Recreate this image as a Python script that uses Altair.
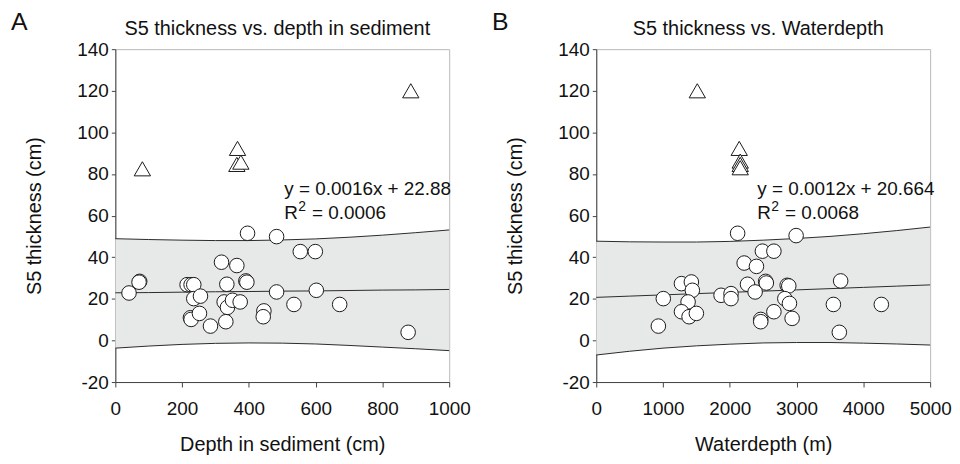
import altair as alt
import pandas as pd

FONT = "Liberation Sans"

# ---------------- Panel A : thickness vs depth in sediment ----------------
a_circ_x = [41, 73, 71, 215, 227, 235, 235, 255, 225, 227, 252, 285, 318, 364, 334,
            326, 336, 331, 351, 374, 391, 394, 396, 483, 483, 445, 443, 554, 599, 602,
            535, 672, 877]
a_circ_y = [22.8, 28.4, 28.0, 26.8, 26.8, 26.8, 20.1, 21.3, 10.9, 10.1, 13.0, 6.9, 37.6, 36.0, 27.0,
            18.5, 15.9, 9.0, 19.3, 18.5, 28.6, 28.0, 51.5, 49.9, 23.3, 14.2, 11.4, 42.7, 42.7, 24.1,
            17.3, 17.3, 3.9]
a_tri_x = [81, 366, 364, 376, 885]
a_tri_y = [82.5, 92.3, 84.6, 85.7, 120.0]

a_band_x = [0, 100, 200, 300, 400, 500, 600, 700, 800, 900, 1000]
a_band_hi = [48.9, 48.5, 48.2, 48.0, 48.0, 48.3, 48.8, 49.6, 50.6, 51.8, 53.1]
a_band_lo = [-3.7, -2.7, -1.9, -1.4, -1.2, -1.3, -1.7, -2.4, -3.2, -4.0, -4.9]
a_band_mid = [22.9, 23.0, 23.2, 23.4, 23.5, 23.7, 23.8, 24.0, 24.2, 24.3, 24.5]

a_ticks = [0, 200, 400, 600, 800, 1000]
a_eq = "y = 0.0016x + 22.88"
a_r2 = "= 0.0006"

# ---------------- Panel B : thickness vs water depth ----------------
b_circ_x = [930, 1004, 1276, 1424, 1439, 1375, 1276, 1390, 1499, 1869, 2018, 2018, 2117, 2215, 2399,
            2488, 2660, 2265, 2379, 2537, 2547, 2463, 2463, 2660, 2859, 2883, 2824, 2893, 2933, 2993,
            3660, 3551, 4269, 3640]
b_circ_y = [6.9, 20.1, 27.3, 28.1, 24.1, 18.5, 13.8, 11.4, 13.0, 21.7, 22.5, 20.1, 51.5, 37.2, 35.6,
            42.9, 42.9, 27.0, 23.3, 28.4, 27.6, 10.1, 9.0, 13.8, 26.5, 26.2, 20.1, 17.8, 10.6, 50.4,
            28.6, 17.3, 17.3, 3.9]
b_tri_x = [1513, 2141, 2156, 2156, 2156]
b_tri_y = [120.0, 92.3, 86.2, 84.6, 83.0]

b_band_x = [0, 500, 1000, 1500, 2000, 2500, 3000, 3500, 4000, 4500, 5000]
b_band_hi = [47.7, 47.4, 47.3, 47.3, 47.6, 48.2, 49.0, 50.0, 51.3, 52.8, 54.5]
b_band_lo = [-7.0, -5.2, -3.7, -2.6, -1.8, -1.2, -1.0, -1.0, -1.3, -1.7, -2.2]
b_band_mid = [20.7, 21.3, 21.9, 22.5, 23.1, 23.7, 24.3, 24.9, 25.5, 26.1, 26.7]

b_ticks = [0, 1000, 2000, 3000, 4000, 5000]
b_eq = "y = 0.0012x + 20.664"
b_r2 = "= 0.0068"

y_ticks = [-20, 0, 20, 40, 60, 80, 100, 120, 140]
y_title = "S5 thickness (cm)"

W, H = 336, 335


def panel(letter, title, xtitle, ticks, cx, cy, tx, ty, bx, bhi, blo, bmid, eq, r2, eq_x):
    xmax = ticks[-1]
    xs = alt.Scale(domain=[0, xmax], nice=False, zero=False)
    ys = alt.Scale(domain=[-20, 140], nice=False, zero=False)
    xax = alt.Axis(values=ticks, title=xtitle, labelExpr="'' + datum.value", grid=False,
                   tickSize=5, labelPadding=13, titlePadding=16, labelFlush=False,
                   labelOverlap=False)
    yax = alt.Axis(values=y_ticks, title=y_title, labelExpr="'' + datum.value", grid=False,
                   tickSize=4, labelPadding=3, titlePadding=33, labelOverlap=False)

    def X(f):
        return alt.X(f, type="quantitative", scale=xs, axis=xax)

    def Y(f):
        return alt.Y(f, type="quantitative", scale=ys, axis=yax)

    band = pd.DataFrame({"x": bx, "hi": bhi, "lo": blo, "mid": bmid})
    circ = pd.DataFrame({"x": cx, "y": cy})
    tri = pd.DataFrame({"x": tx, "y": ty})

    area = alt.Chart(band).mark_area(color="#e7e8e8", opacity=1).encode(
        x=X("x"), y=Y("lo"), y2="hi:Q")
    lines = [
        alt.Chart(band).mark_line(color="#2a2a2a", strokeWidth=1).encode(x=X("x"), y=Y(f))
        for f in ["hi", "lo", "mid"]
    ]
    circles = alt.Chart(circ).mark_point(
        shape="circle", filled=True, fill="white", fillOpacity=1, stroke="#1a1a1a",
        strokeWidth=1, size=215, opacity=1).encode(x=X("x"), y=Y("y"))
    triangles = alt.Chart(tri).mark_point(
        shape="triangle-up", filled=True, fill="white", fillOpacity=1, stroke="#1a1a1a",
        strokeWidth=1, size=270, opacity=1).encode(x=X("x"), y=Y("y"))

    def txt(t, x, y, size, align="left"):
        return alt.Chart(pd.DataFrame({"t": [t]})).mark_text(
            align=align, baseline="alphabetic", font=FONT, fontSize=size, color="#111"
        ).encode(x=alt.value(x), y=alt.value(y), text="t:N")

    texts = [
        txt(letter, -105, -19, 25),
        txt(title, W / 2 - 5, -14, 20, align="center"),
        txt(eq, eq_x, 147, 19),
        txt("R", eq_x, 171, 19),
        txt("2", eq_x + 14, 162.5, 14),
        txt(r2, eq_x + 28, 171, 19),
    ]

    return alt.layer(area, *lines, circles, triangles, *texts).properties(width=W, height=H)


left = panel("A", "S5 thickness vs. depth in sediment", "Depth in sediment (cm)", a_ticks,
             a_circ_x, a_circ_y, a_tri_x, a_tri_y, a_band_x, a_band_hi, a_band_lo, a_band_mid,
             a_eq, a_r2, 170)
right = panel("B", "S5 thickness vs. Waterdepth", "Waterdepth (m)", b_ticks,
              b_circ_x, b_circ_y, b_tri_x, b_tri_y, b_band_x, b_band_hi, b_band_lo, b_band_mid,
              b_eq, b_r2, 162)

chart = alt.hconcat(left, right, spacing=20).properties(
    padding={"left": 2, "top": 0, "right": 0, "bottom": 0},
    background="white",
).configure_view(
    stroke="#b8b8b8", strokeWidth=1
).configure_axis(
    labelFont=FONT, titleFont=FONT, labelFontSize=19, titleFontSize=20,
    labelColor="#111", titleColor="#111", titleFontWeight="normal",
    domainColor="#444", tickColor="#444", domainWidth=1, tickWidth=1,
)

chart.save("out.html", embed_options={"renderer": "svg", "actions": False})
